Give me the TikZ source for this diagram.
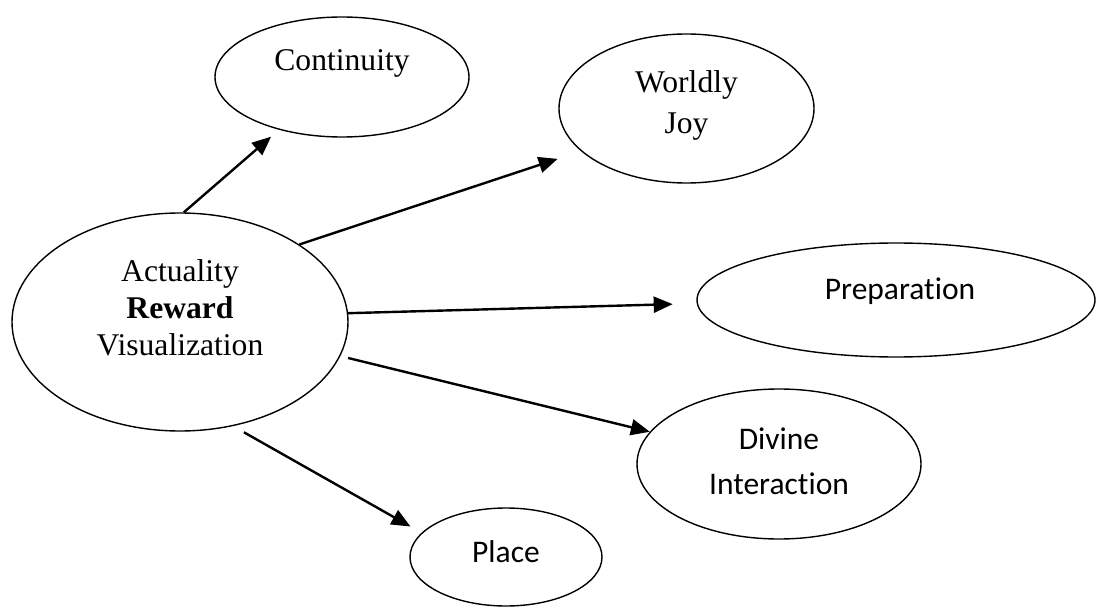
\documentclass[tikz,border=0pt]{standalone}
\usepackage{fontspec}
\setmainfont{Liberation Serif}
\newfontfamily\calibfont[Ligatures=NoCommon]{Carlito}
\usetikzlibrary{arrows.meta,shapes.geometric}
\tikzset{
	bubble/.style = {ellipse, draw=black, line width=1.4pt, inner sep=0pt},
	lab_r/.style = {anchor=base, inner sep=0pt,
		font=\fontsize{31.6pt}{38pt}\selectfont},
	lab_s/.style = {anchor=base, inner sep=0pt,
		font=\calibfont\fontsize{31.5pt}{38pt}\selectfont},
	link/.style = {->, line width=2.4pt}
}

\begin{document}
\begin{tikzpicture}[x=1pt,y=-1pt,>={Triangle[length=19pt,width=16pt]}]
\useasboundingbox (0,0) rectangle (1096,607);
\node [bubble, minimum width=336pt, minimum height=218pt] (act) at (180,322) {};
\node [bubble, minimum width=254pt, minimum height=120pt] (cont) at (342,77) {};
\node [bubble, minimum width=255pt, minimum height=149pt] (joy) at (686.5,108.5) {};
\node [bubble, minimum width=398pt, minimum height=114pt] (prep) at (896,300) {};
\node [bubble, minimum width=284pt, minimum height=150pt] (div) at (779,464) {};
\node [bubble, minimum width=192pt, minimum height=98pt] (place) at (506,557) {};

\node [lab_r] (act_a) at (180,281) {Actuality};
\node [lab_r] (act_r) at (180,318) {\bfseries Reward};
\node [lab_r] (act_v) at (180,355) {Visualization};
\node [lab_r] (cont_t) at (342,71) {Continuity};
\node [lab_r] (joy_a) at (686.5,93) {Worldly};
\node [lab_r] (joy_b) at (686.5,133.5) {Joy};
\node [lab_s] (prep_t) at (900,299) {Preparation};
\node [lab_s] (div_a) at (779,449.5) {Divine};
\node [lab_s] (div_b) at (779,494.5) {Interaction};
\node [lab_s] (place_t) at (506,562) {Place};

\draw [link, shorten >=10.5pt] (act.88) -- (cont.220);
\draw [link, shorten >=24.5pt] (act.33) -- (joy.202);
\draw [link, shorten >=24pt] (act.3) -- (prep.181);
\draw [link, shorten <=8pt] (act.-12) -- (div.166);
\draw [link, shorten <=12.5pt, shorten >=12.7pt] (act.-63) -- (place.164);
\end{tikzpicture}
\end{document}
